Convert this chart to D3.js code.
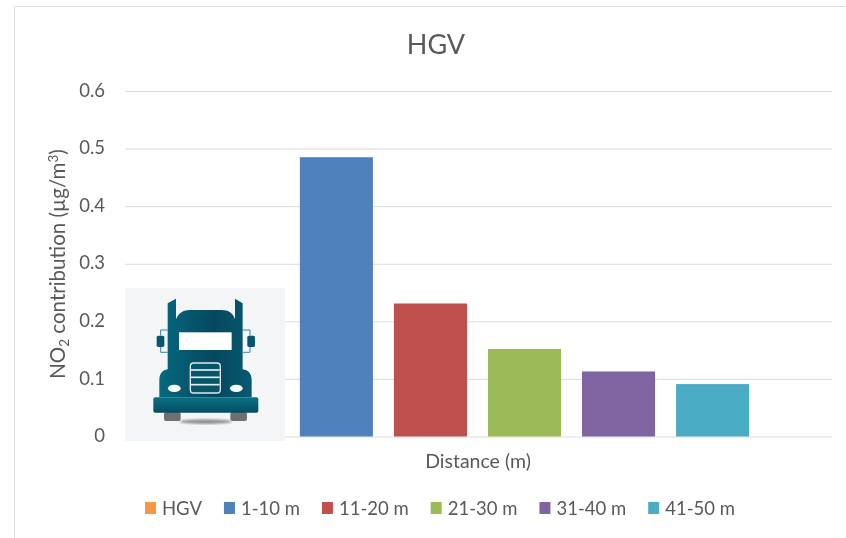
<!DOCTYPE html>
<html>
<head>
<meta charset="utf-8">
<script src="https://d3js.org/d3.v7.min.js"></script>
<style>
  html, body { margin: 0; padding: 0; background: #fff; }
  svg { display: block; filter: blur(0.35px); }
  text { font-family: Lato, "Open Sans", sans-serif; fill: #595959; }
</style>
</head>
<body>
<div id="chart"></div>
<script>
var categories = ["1-10 m", "11-20 m", "21-30 m", "31-40 m", "41-50 m"];
var values = [0.485, 0.231, 0.152, 0.113, 0.091];
var barColors = ["#4f81bd", "#c0504d", "#9bbb59", "#8064a2", "#4bacc6"];
var legendLabels = ["HGV", "1-10 m", "11-20 m", "21-30 m", "31-40 m", "41-50 m"];
var legendColors = ["#f79646", "#4f81bd", "#c0504d", "#9bbb59", "#8064a2", "#4bacc6"];
var yTicks = [0, 0.1, 0.2, 0.3, 0.4, 0.5, 0.6];

var width = 846, height = 538;
var margin = {top: 91, right: 14, bottom: 102, left: 125};

var svg = d3.select("#chart").append("svg")
    .attr("width", width)
    .attr("height", height);

var defs = svg.append("defs");
var cab = defs.append("linearGradient").attr("id", "cabFill");
cab.append("stop").attr("offset", "0%").attr("stop-color", "#04697f");
cab.append("stop").attr("offset", "60%").attr("stop-color", "#06475f");
cab.append("stop").attr("offset", "100%").attr("stop-color", "#075a70");
var bumper = defs.append("linearGradient").attr("id", "bumperFill")
    .attr("x1", 0).attr("x2", 0).attr("y1", 0).attr("y2", 1);
bumper.append("stop").attr("offset", "0%").attr("stop-color", "#0a7186");
bumper.append("stop").attr("offset", "100%").attr("stop-color", "#064c62");
defs.append("filter").attr("id", "soft").append("feGaussianBlur").attr("stdDeviation", 3);

// chart frame, only top and left show in the picture
svg.append("path")
    .attr("d", "M14.5,538V6.5H846")
    .attr("fill", "none")
    .attr("stroke", "#dedede");

var y = d3.scaleLinear()
    .domain([0, 0.6])
    .range([height - margin.bottom + 0.5, margin.top]);

var x = d3.scaleBand()
    .domain(categories)
    .range([289.5, 759.5])
    .paddingInner(0.223)
    .paddingOuter(0.11);

var yAxis = d3.axisLeft(y)
    .tickValues(yTicks)
    .tickFormat(function (d) { return d === 0 ? "0" : d3.format(".1f")(d); })
    .tickSize(-(width - margin.left - margin.right))
    .tickPadding(20);

var yAxisGroup = svg.append("g")
    .attr("class", "y-axis")
    .attr("transform", "translate(" + margin.left + ",0)")
    .call(yAxis);
yAxisGroup.select(".domain").remove();
yAxisGroup.selectAll("line").attr("stroke", "#dcdcdc");
yAxisGroup.selectAll("text").style("font-size", "18.5px").attr("dy", "0.28em");

// truck picture sits on top of the grid
var truck = svg.append("g").attr("transform", "translate(125,288)");
truck.append("rect").attr("width", 160).attr("height", 153).attr("fill", "#f4f5f7");

var icon = truck.append("g").attr("transform", "translate(-5,-8) scale(0.3333)");
icon.append("ellipse").attr("cx", 257).attr("cy", 425).attr("rx", 78).attr("ry", 7)
    .attr("fill", "#8f9396").attr("filter", "url(#soft)");
icon.selectAll(".wheel").data([132, 331]).enter().append("rect")
    .attr("x", function (d) { return d; })
    .attr("y", 396).attr("width", 50).attr("height", 27).attr("rx", 6)
    .attr("fill", "#6e6f72");
icon.append("path")
    .attr("d", "M143,70 L168,56 V118 C176,98 190,90 210,90 H305 C325,90 339,98 345,118 V56 L368,70 V268 C385,270 395,282 395,300 V352 H118 V300 C118,282 128,270 143,268 Z")
    .attr("fill", "url(#cabFill)");
icon.append("rect").attr("x", 177).attr("y", 157).attr("width", 158).attr("height", 53).attr("fill", "#fff");
icon.append("rect").attr("x", 211).attr("y", 249).attr("width", 90).attr("height", 90).attr("rx", 10)
    .attr("fill", "#06556b").attr("stroke", "#dfe9ec").attr("stroke-width", 4);
icon.selectAll(".grille").data([270, 292, 314]).enter().append("line")
    .attr("x1", 213).attr("x2", 299)
    .attr("y1", function (d) { return d; })
    .attr("y2", function (d) { return d; })
    .attr("stroke", "#e6eef0").attr("stroke-width", 5);
icon.selectAll(".lamp").data([163, 349]).enter().append("ellipse")
    .attr("cx", function (d) { return d; })
    .attr("cy", 325).attr("rx", 19).attr("ry", 11)
    .attr("fill", "#fff");
icon.selectAll(".mirror").data([110, 382]).enter().append("rect")
    .attr("x", function (d) { return d; })
    .attr("y", 167).attr("width", 23).attr("height", 34).attr("rx", 5)
    .attr("fill", "#06566c");
icon.append("path")
    .attr("d", "M143,150 H122 V167 M122,201 V217 H143 M368,150 H390 V167 M390,201 V217 H368")
    .attr("fill", "none").attr("stroke", "#3f8496").attr("stroke-width", 3);
icon.append("rect").attr("x", 100).attr("y", 352).attr("width", 315).attr("height", 46).attr("rx", 6)
    .attr("fill", "url(#bumperFill)");

svg.selectAll(".bar")
    .data(values)
    .enter().append("rect")
    .attr("class", "bar")
    .attr("x", function (d, i) { return x(categories[i]); })
    .attr("y", function (d) { return y(d); })
    .attr("width", x.bandwidth())
    .attr("height", function (d) { return y(0) - y(d); })
    .attr("fill", function (d, i) { return barColors[i]; });

svg.append("text")
    .attr("x", 436)
    .attr("y", 54)
    .attr("text-anchor", "middle")
    .style("font-size", "27px")
    .text("HGV");

svg.append("text")
    .attr("x", 478)
    .attr("y", 468)
    .attr("text-anchor", "middle")
    .style("font-size", "19.5px")
    .text("Distance (m)");

var yTitle = svg.append("text")
    .attr("transform", "translate(65,264) rotate(-90)")
    .attr("text-anchor", "middle")
    .style("font-size", "20.5px");
yTitle.append("tspan").text("NO");
yTitle.append("tspan").attr("dy", 4).style("font-size", "13.5px").text("2");
yTitle.append("tspan").attr("dy", -4).text(" contribution (µg/m");
yTitle.append("tspan").attr("dy", -7).style("font-size", "13.5px").text("3");
yTitle.append("tspan").attr("dy", 7).text(")");

// legend flows left to right from the measured label widths
var legendX = 145;
legendLabels.forEach(function (label, i) {
    var g = svg.append("g").attr("transform", "translate(" + legendX + ",502)");
    g.append("rect")
        .attr("width", 11)
        .attr("height", 12)
        .attr("fill", legendColors[i]);
    var t = g.append("text")
        .attr("x", 17)
        .attr("y", 12.5)
        .style("font-size", "18.5px")
        .text(label);
    legendX += 17 + t.node().getComputedTextLength() + 22;
});
</script>
</body>
</html>
